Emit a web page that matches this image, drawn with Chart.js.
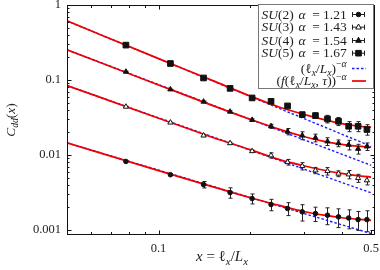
<!DOCTYPE html>
<html>
<head>
<meta charset="utf-8">
<script src="https://cdn.jsdelivr.net/npm/chart.js@4"></script>
<style>
  html, body { margin: 0; padding: 0; background: #fff; }
</style>
</head>
<body>
<canvas id="grafico" width="380" height="270"></canvas>
<script>
// posiciones x = l_x / L_x de los puntos medidos
const xVals = [0.0781, 0.1094, 0.1406, 0.1719, 0.2031, 0.2344, 0.2656, 0.2969, 0.3281, 0.3594, 0.3906, 0.4219, 0.4531, 0.4844];

const su2 = [0.00822, 0.00547, 0.00404, 0.00316, 0.00263, 0.00219, 0.00194, 0.00175, 0.00166, 0.00158, 0.00150, 0.00145, 0.00138, 0.00138];
const su2Err = [0.00012, 0.00012, 0.00040, 0.00050, 0.00040, 0.00038, 0.00038, 0.00043, 0.00036, 0.00040, 0.00042, 0.00041, 0.00039, 0.00043];
const su3 = [0.0441, 0.0271, 0.0182, 0.0144, 0.01127, 0.0099, 0.00805, 0.00713, 0.00624, 0.00611, 0.00565, 0.00552, 0.00493, 0.00460];
const su3Err = [0.0006, 0.0004, 0.0004, 0.0004, 0.0004, 0.0008, 0.0007, 0.0008, 0.0006, 0.0007, 0.0005, 0.0007, 0.0006, 0.0006];
const su4 = [0.129, 0.0750, 0.0515, 0.0379, 0.0294, 0.0242, 0.0206, 0.0182, 0.0170, 0.0152, 0.0144, 0.0137, 0.0121, 0.0130];
const su4Err = [0.002, 0.001, 0.001, 0.001, 0.001, 0.0015, 0.002, 0.0022, 0.002, 0.0018, 0.0015, 0.002, 0.0018, 0.0015];
const su5 = [0.292, 0.166, 0.1065, 0.0774, 0.0577, 0.052, 0.0452, 0.0346, 0.0336, 0.0303, 0.0282, 0.0242, 0.0242, 0.0219];
const su5Err = [0.004, 0.003, 0.002, 0.0015, 0.0012, 0.0015, 0.002, 0.0025, 0.0028, 0.0035, 0.0035, 0.0037, 0.0037, 0.0035];

const grupos = ["2", "3", "4", "5"];
const alphas = ["1.21", "1.43", "1.54", "1.67"];

// curvas (f(l_x/L_x, tau))^-alpha
const fitX = [0.05, 0.1, 0.15, 0.2, 0.25, 0.3, 0.35, 0.4, 0.45, 0.5];
const fitSU2 = [0.01456, 0.0062, 0.0038, 0.0027, 0.00213, 0.00177, 0.00158, 0.00146, 0.00140, 0.00135];
const fitSU3 = [0.0845, 0.031, 0.0173, 0.0118, 0.0087, 0.00721, 0.00628, 0.00569, 0.00531, 0.00507];
const fitSU4 = [0.253, 0.086, 0.046, 0.030, 0.0220, 0.01766, 0.0152, 0.0139, 0.01316, 0.01273];
const fitSU5 = [0.615, 0.193, 0.099, 0.0613, 0.0434, 0.0349, 0.0297, 0.0263, 0.0244, 0.0235];

// rectas (l_x/L_x)^-alpha
const rectaX = [0.05, 0.5];
const rectaSU2 = [0.01456, 0.0009];
const rectaSU3 = [0.0845, 0.00314];
const rectaSU4 = [0.253, 0.0073];
const rectaSU5 = [0.614, 0.0131];

const xTicks = [0.1, 0.5];
const xMenores = [0.06, 0.07, 0.08, 0.09, 0.2, 0.3, 0.4];
const yTicks = [0.001, 0.01, 0.1, 1];
const yMenores = [0.0009, 0.002, 0.003, 0.004, 0.005, 0.006, 0.007, 0.008, 0.009,
  0.02, 0.03, 0.04, 0.05, 0.06, 0.07, 0.08, 0.09, 0.2, 0.3, 0.4, 0.5, 0.6, 0.7, 0.8, 0.9];

const SERIF = "'Liberation Serif', 'DejaVu Serif', serif";
const ROJO = "#f00000";
const AZUL = "#1a1aff";

const pares = (xs, ys) => xs.map((x, i) => ({ x: x, y: ys[i] }));

const series = [
  { datos: su2, err: su2Err, estilo: "circle", radio: 2.3, relleno: "#111" },
  { datos: su3, err: su3Err, estilo: "triangle", radio: 3, relleno: "#fff" },
  { datos: su4, err: su4Err, estilo: "triangle", radio: 3, relleno: "#111" },
  { datos: su5, err: su5Err, estilo: "rect", radio: 4, relleno: "#111" }
];
const rectas = [rectaSU2, rectaSU3, rectaSU4, rectaSU5];
const ajustes = [fitSU2, fitSU3, fitSU4, fitSU5];

const datasets = [];
rectas.forEach(r => {
  datasets.push({
    data: pares(rectaX, r), showLine: true, pointRadius: 0,
    borderColor: AZUL, borderWidth: 1.4, borderDash: [2.5, 2], order: 3
  });
});
ajustes.forEach(a => {
  datasets.push({
    data: pares(fitX, a), showLine: true, pointRadius: 0, cubicInterpolationMode: "monotone",
    borderColor: ROJO, borderWidth: 1.7, order: 2
  });
});
series.forEach(s => {
  datasets.push({
    data: pares(xVals, s.datos), errores: s.err, showLine: false,
    pointStyle: s.estilo, pointRadius: s.radio, pointBackgroundColor: s.relleno,
    pointBorderColor: "#111", pointBorderWidth: 1, order: 1
  });
});

function fuente(p, base) {
  const size = p.d ? base * 0.72 : base;
  return (p.i ? "italic " : "") + size + "px " + SERIF;
}

function textoRico(ctx, partes, x, y, base, align) {
  let ancho = 0;
  partes.forEach(p => { ctx.font = fuente(p, base); ancho += ctx.measureText(p.t).width; });
  let cx = align === "right" ? x - ancho : align === "center" ? x - ancho / 2 : x;
  ctx.textAlign = "left";
  ctx.textBaseline = "alphabetic";
  partes.forEach(p => {
    ctx.font = fuente(p, base);
    const dy = p.d === "sub" ? base * 0.25 : p.d === "sup" ? -base * 0.4 : 0;
    ctx.fillText(p.t, cx, y + dy);
    cx += ctx.measureText(p.t).width;
  });
}

function marcador(ctx, estilo, relleno, x, y) {
  ctx.save();
  ctx.fillStyle = relleno;
  ctx.strokeStyle = "#111";
  ctx.lineWidth = 1;
  ctx.beginPath();
  if (estilo === "circle") {
    ctx.arc(x, y, 2.3, 0, Math.PI * 2);
  } else if (estilo === "rect") {
    ctx.rect(x - 2.8, y - 2.8, 5.6, 5.6);
  } else {
    ctx.moveTo(x, y - 3.2);
    ctx.lineTo(x + 2.8, y + 1.8);
    ctx.lineTo(x - 2.8, y + 1.8);
    ctx.closePath();
  }
  ctx.fill();
  ctx.stroke();
  ctx.restore();
}

const decorado = {
  id: "decorado",
  beforeDatasetsDraw(chart) {
    const ctx = chart.ctx;
    const ys = chart.scales.y, xs = chart.scales.x;
    ctx.save();
    ctx.strokeStyle = "#222";
    ctx.lineWidth = 1;
    chart.data.datasets.forEach(ds => {
      if (!ds.errores) return;
      ds.data.forEach((p, i) => {
        const e = ds.errores[i];
        const px = Math.round(xs.getPixelForValue(p.x)) + 0.5;
        const y1 = ys.getPixelForValue(p.y + e);
        const y2 = ys.getPixelForValue(Math.max(p.y - e, 1e-6));
        ctx.beginPath();
        ctx.moveTo(px, y1); ctx.lineTo(px, y2);
        ctx.moveTo(px - 2, y1); ctx.lineTo(px + 2, y1);
        ctx.moveTo(px - 2, y2); ctx.lineTo(px + 2, y2);
        ctx.stroke();
      });
    });
    ctx.restore();
  },
  afterDraw(chart) {
    const ctx = chart.ctx;
    const a = chart.chartArea;
    const xs = chart.scales.x, ys = chart.scales.y;
    ctx.save();
    // marco y marcas hacia dentro
    ctx.strokeStyle = "#111";
    ctx.lineWidth = 1;
    ctx.strokeRect(Math.round(a.left) + 0.5, Math.round(a.top) + 0.5,
      Math.round(a.right - a.left) - 1, Math.round(a.bottom - a.top) - 1);
    const marcaX = (v, largo) => {
      const px = Math.round(xs.getPixelForValue(v)) + 0.5;
      ctx.beginPath();
      ctx.moveTo(px, a.bottom); ctx.lineTo(px, a.bottom - largo);
      ctx.moveTo(px, a.top); ctx.lineTo(px, a.top + largo);
      ctx.stroke();
    };
    const marcaY = (v, largo) => {
      const py = Math.round(ys.getPixelForValue(v)) + 0.5;
      ctx.beginPath();
      ctx.moveTo(a.left, py); ctx.lineTo(a.left + largo, py);
      ctx.moveTo(a.right, py); ctx.lineTo(a.right - largo, py);
      ctx.stroke();
    };
    xTicks.forEach(v => marcaX(v, 4.5));
    xMenores.forEach(v => marcaX(v, 3));
    yTicks.forEach(v => marcaY(v, 4.5));
    yMenores.forEach(v => marcaY(v, 2.5));

    // titulos de ejes
    ctx.fillStyle = "#222";
    textoRico(ctx, [
      { t: "x", i: true }, { t: " = " }, { t: "\u2113" }, { t: "x", i: true, d: "sub" },
      { t: "/" }, { t: "L", i: true }, { t: "x", i: true, d: "sub" }
    ], 222, 261, 15, "center");
    ctx.save();
    ctx.translate(10, 120);
    ctx.rotate(-Math.PI / 2);
    textoRico(ctx, [
      { t: "C", i: true }, { t: "dd", i: true, d: "sub" }, { t: "(" }, { t: "x", i: true }, { t: ")" }
    ], 0, 4.5, 13.5, "center");
    ctx.restore();

    // leyenda
    ctx.fillStyle = "#fff";
    ctx.fillRect(258.5, 4.5, 115, 84);
    ctx.strokeStyle = "#777";
    ctx.strokeRect(258.5, 4.5, 115, 84);
    const filas = [14, 26.7, 40, 52.7];
    ctx.fillStyle = "#222";
    filas.forEach((fy, i) => {
      textoRico(ctx, [{ t: "SU", i: true }, { t: "(" + grupos[i] + ")" }], 261.5, fy + 4.5, 13.5, "left");
      textoRico(ctx, [{ t: "\u03b1", i: true }], 298.5, fy + 4.5, 13.5, "left");
      textoRico(ctx, [{ t: "=" }], 316, fy + 4.5, 13.5, "center");
      textoRico(ctx, [{ t: alphas[i] }], 346.7, fy + 4.5, 13.5, "right");
      const s = series[i];
      ctx.strokeStyle = "#222";
      ctx.beginPath();
      ctx.moveTo(352, fy + 0.5); ctx.lineTo(365, fy + 0.5);
      ctx.moveTo(352.5, fy - 2); ctx.lineTo(352.5, fy + 3);
      ctx.moveTo(364.5, fy - 2); ctx.lineTo(364.5, fy + 3);
      ctx.stroke();
      marcador(ctx, s.estilo, s.relleno, 358.5, fy + 0.5);
      ctx.fillStyle = "#222";
    });
    textoRico(ctx, [
      { t: "(" }, { t: "\u2113" }, { t: "x", i: true, d: "sub" }, { t: "/" }, { t: "L", i: true },
      { t: "x", i: true, d: "sub" }, { t: ")" }, { t: "\u2212", d: "sup" }, { t: "\u03b1", i: true, d: "sup" }
    ], 346.7, 72.5, 13.5, "right");
    textoRico(ctx, [
      { t: "(" }, { t: "f", i: true }, { t: "(" }, { t: "\u2113" }, { t: "x", i: true, d: "sub" }, { t: "/" },
      { t: "L", i: true }, { t: "x", i: true, d: "sub" }, { t: ", " }, { t: "\u03c4", i: true }, { t: "))" },
      { t: "\u2212", d: "sup" }, { t: "\u03b1", i: true, d: "sup" }
    ], 346.7, 85, 13.5, "right");
    ctx.lineWidth = 1.4;
    ctx.strokeStyle = AZUL;
    ctx.setLineDash([2.5, 2]);
    ctx.beginPath(); ctx.moveTo(352, 68.5); ctx.lineTo(366, 68.5); ctx.stroke();
    ctx.setLineDash([]);
    ctx.lineWidth = 1.7;
    ctx.strokeStyle = ROJO;
    ctx.beginPath(); ctx.moveTo(352, 81); ctx.lineTo(366, 81); ctx.stroke();
    ctx.restore();
  }
};

new Chart(document.getElementById("grafico").getContext("2d"), {
  type: "scatter",
  data: { datasets: datasets },
  plugins: [decorado],
  options: {
    responsive: false,
    animation: false,
    layout: { padding: { top: 4, right: 3, bottom: 0, left: 0 } },
    plugins: { legend: { display: false }, tooltip: { enabled: false } },
    scales: {
      x: {
        type: "logarithmic", min: 0.05, max: 0.515,
        grid: { display: false, drawTicks: false },
        border: { display: false },
        afterBuildTicks: ax => { ax.ticks = xTicks.map(v => ({ value: v })); },
        afterFit: s => { s.height = 35; s.paddingLeft = 0; s.paddingRight = 0; },
        ticks: {
          callback: v => String(v), autoSkip: false, maxRotation: 0, padding: 6,
          color: "#222", font: { family: SERIF, size: 12.5 }
        }
      },
      y: {
        type: "logarithmic", min: 0.00086, max: 1,
        grid: { display: false, drawTicks: false },
        border: { display: false },
        afterBuildTicks: ax => { ax.ticks = yTicks.map(v => ({ value: v })); },
        afterFit: s => { s.width = 67; s.paddingTop = 0; s.paddingBottom = 0; },
        ticks: {
          callback: v => String(v), autoSkip: false, padding: 6,
          color: "#222", font: { family: SERIF, size: 12.5 }
        }
      }
    }
  }
});
</script>
</body>
</html>
